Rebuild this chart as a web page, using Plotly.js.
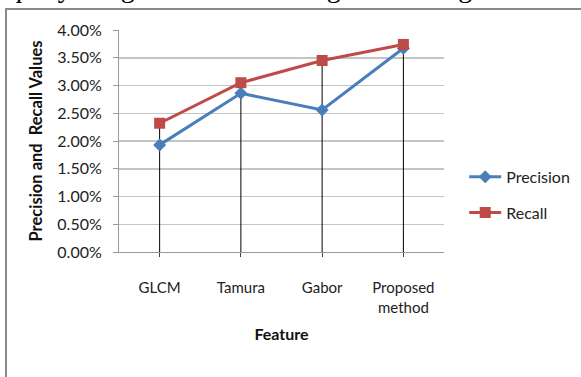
<!DOCTYPE html>
<html>
<head>
<meta charset="utf-8">
<script src="https://cdn.plot.ly/plotly-3.0.1.min.js"></script>
<style>
  body { margin: 0; padding: 0; background: #fff; overflow: hidden; }
  #wrap { position: relative; width: 581px; height: 377px; overflow: hidden; }
  #plot { position: absolute; left: 0; top: 0; width: 581px; height: 377px; }
  #frame { position: absolute; left: 5px; top: 8px; width: 600px; height: 400px;
           border-left: 2px solid #8a8a8a; border-top: 2px solid #8a8a8a; pointer-events: none; }
  #cut { position: absolute; left: 8px; top: -28px; white-space: nowrap; line-height: 32px;
         font-family: "Liberation Serif", serif; font-size: 28px; color: #000; }
</style>
</head>
<body>
<div id="wrap">
  <div id="plot"></div>
  <div id="frame"></div>
  <div id="cut">query image and the resulting set of images.</div>
</div>
<script>
const categories = ["GLCM", "Tamura", "Gabor", "Proposed<br>method"];
const precision = [0.0193, 0.0286, 0.0256, 0.0367];
const recall = [0.0232, 0.0305, 0.0345, 0.0374];
const yTicks = [0, 0.005, 0.01, 0.015, 0.02, 0.025, 0.03, 0.035, 0.04];

// drop lines from the highest point of each category down to the axis
const dropX = [], dropY = [];
categories.forEach((c, i) => {
  dropX.push(c, c, null);
  dropY.push(0, Math.max(precision[i], recall[i]), null);
});

const font = 'Lato, "Open Sans", sans-serif';

const traces = [
  { x: dropX, y: dropY, type: 'scatter', mode: 'lines', showlegend: false,
    hoverinfo: 'skip', line: { color: '#000', width: 1 } },
  { x: categories, y: precision, name: 'Precision', legendgroup: 'p', type: 'scatter', mode: 'lines+markers',
    line: { color: '#4A7EBB', width: 3 },
    marker: { symbol: 'diamond', size: 10, color: '#4A7EBB' } },
  { x: categories, y: recall, name: 'Recall', legendgroup: 'r', type: 'scatter', mode: 'lines+markers',
    line: { color: '#BE4B48', width: 3 },
    marker: { symbol: 'square', size: 11, color: '#BE4B48' } }
];

const layout = {
  width: 581, height: 377,
  margin: { l: 119, r: 137, t: 30, b: 125, autoexpand: false },
  paper_bgcolor: '#fff', plot_bgcolor: '#fff',
  font: { family: font, size: 15, color: '#222' },
  xaxis: {
    type: 'category',
    range: [-0.5, 3.5],
    showgrid: false,
    showline: true, linecolor: '#9a9a9a', linewidth: 1,
    ticks: 'outside', ticklen: 4, tickcolor: '#444',
    tickfont: { family: font, size: 15, color: '#222' },
    ticklabelstandoff: 18,
    title: { text: '<b>Feature</b>', font: { family: font, size: 16, color: '#111' }, standoff: 14 },
    automargin: false,
    fixedrange: true
  },
  yaxis: {
    range: [0, 0.04],
    tickvals: yTicks,
    tickformat: '.2%',
    showgrid: true, gridcolor: '#c4c4c4', gridwidth: 1.5,
    showline: true, linecolor: '#9a9a9a', linewidth: 1,
    zeroline: false,
    ticks: 'outside', ticklen: 5, tickcolor: '#9a9a9a',
    tickfont: { family: font, size: 16, color: '#222' },
    ticklabelstandoff: 8,
    title: { text: '<b>Precision and  Recall Values</b>', font: { family: font, size: 16.5, color: '#111' }, standoff: 10 },
    automargin: false,
    fixedrange: true
  },
  legend: {
    xref: 'container', yref: 'container',
    x: 0.799, y: 0.576, xanchor: 'left', yanchor: 'top',
    font: { family: font, size: 16, color: '#222' },
    tracegroupgap: 12, itemwidth: 32, bgcolor: 'rgba(0,0,0,0)'
  },
  showlegend: true
};

Plotly.newPlot('plot', traces, layout, { displayModeBar: false, staticPlot: true });
</script>
</body>
</html>
